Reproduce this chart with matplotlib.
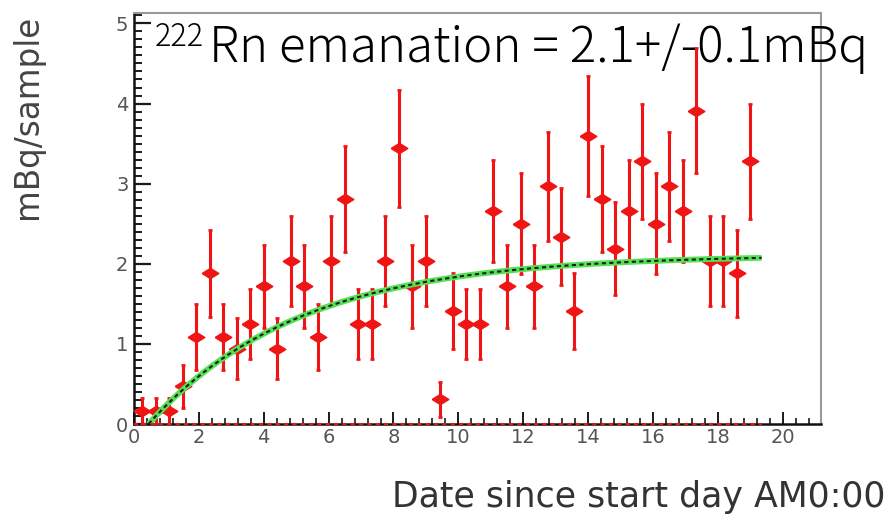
import numpy as np
import matplotlib
matplotlib.use('Agg')
import matplotlib.pyplot as plt
from matplotlib.ticker import MultipleLocator


# elapsed days (10 h bins) and measured activity per sample
days = [0.25, 0.67, 1.08, 1.50, 1.92, 2.33, 2.75, 3.17, 3.58, 4.00,
        4.42, 4.83, 5.25, 5.67, 6.08, 6.50, 6.92, 7.33, 7.75, 8.17,
        8.58, 9.00, 9.42, 9.83, 10.25, 10.67, 11.08, 11.50, 11.92, 12.33,
        12.75, 13.17, 13.58, 14.00, 14.42, 14.83, 15.25, 15.67, 16.08, 16.50,
        16.92, 17.33, 17.75, 18.17, 18.58, 19.00]
rate = [0.16, 0.16, 0.16, 0.47, 1.09, 1.88, 1.09, 0.94, 1.25, 1.72,
        0.94, 2.03, 1.72, 1.09, 2.03, 2.81, 1.25, 1.25, 2.03, 3.44,
        1.72, 2.03, 0.31, 1.41, 1.25, 1.25, 2.66, 1.72, 2.50, 1.72,
        2.97, 2.34, 1.41, 3.59, 2.81, 2.19, 2.66, 3.28, 2.50, 2.97,
        2.66, 3.91, 2.03, 2.03, 1.88, 3.28]
rate_err = [0.16, 0.16, 0.16, 0.27, 0.41, 0.54, 0.41, 0.38, 0.44, 0.52,
            0.38, 0.56, 0.52, 0.41, 0.56, 0.66, 0.44, 0.44, 0.56, 0.73,
            0.52, 0.56, 0.22, 0.47, 0.44, 0.44, 0.64, 0.52, 0.63, 0.52,
            0.68, 0.61, 0.47, 0.75, 0.66, 0.58, 0.64, 0.72, 0.63, 0.68,
            0.64, 0.78, 0.56, 0.56, 0.54, 0.72]

# fit: A * (1 - exp(-lambda (t - t0)))
fit_norm = 2.11
fit_lambda = 0.215
fit_t0 = 0.45
fit_end = 19.35
background = 0.0

x_ticks = [0, 2, 4, 6, 8, 10, 12, 14, 16, 18, 20]
y_ticks = [0, 1, 2, 3, 4, 5]

plt.rcParams['font.family'] = ['DejaVu Sans']

red = '#f01414'
fig = plt.figure(figsize=(8.89, 5.19), dpi=100)
ax = fig.add_axes([134 / 889, 1 - 424 / 519, 687 / 889, 411 / 519])

diamond = [(-1, 0), (0, 0.62), (1, 0), (0, -0.62), (-1, 0)]
ax.errorbar(days, rate, yerr=rate_err, fmt='none', ecolor=red,
            elinewidth=2.2, capsize=1.5, capthick=2, zorder=3)
ax.plot(days, rate, ls='none', marker=diamond, ms=12, color=red, zorder=4)

t = np.linspace(fit_t0, fit_end, 300)
f = fit_norm * (1 - np.exp(-fit_lambda * (t - fit_t0)))
ax.plot(t, f, color='#55e055', lw=4.2, zorder=5, solid_capstyle='butt')
ax.plot(t, f, color='#1c1c1c', lw=1.5, ls=(0, (2, 1.6)), zorder=6)

# background function along zero
ax.plot([0, fit_end], [background, background], color=red, lw=1.5,
        ls=(0, (2, 2)), zorder=7, clip_on=False)

ax.set_xlim(0, 21.18)
ax.set_ylim(0, 5.13)
ax.set_xticks(x_ticks)
ax.set_yticks(y_ticks)
ax.xaxis.set_minor_locator(MultipleLocator(0.4))
ax.yaxis.set_minor_locator(MultipleLocator(0.1))

ax.tick_params(axis='both', which='both', direction='in', colors='#1a1a1a',
               labelcolor='#555555', labelsize=14)
ax.tick_params(axis='y', which='major', length=12, width=1.6, pad=4)
ax.tick_params(axis='y', which='minor', length=6, width=1.4)
ax.tick_params(axis='x', which='major', length=9, width=1.4, pad=3)
ax.tick_params(axis='x', which='minor', length=4.5, width=1.2)

for side in ['left', 'bottom']:
    ax.spines[side].set_color('#111111')
    ax.spines[side].set_linewidth(1.8)
for side in ['top', 'right']:
    ax.spines[side].set_color('#9a9a9a')
    ax.spines[side].set_linewidth(1.5)

fig.text(28 / 889, 1 - 117 / 519, 'mBq/sample', rotation=90, ha='center',
         va='center', fontsize=23.5, color='#444444')
fig.text(885 / 889, 1 - 507 / 519, 'Date since start day AM0:00', ha='right',
         va='baseline', fontsize=25, color='#333333')

jp = ['Noto Sans CJK JP', 'DejaVu Sans']
fig.text(155 / 889, 1 - 46 / 519, '222', family=jp, fontsize=22,
         fontweight='light', va='baseline', color='black')
fig.text(209 / 889, 1 - 62 / 519, 'Rn emanation = 2.1+/-0.1mBq', family=jp,
         fontsize=35.5, fontweight='light', va='baseline', color='black')

fig.savefig('out.png', dpi=100)
